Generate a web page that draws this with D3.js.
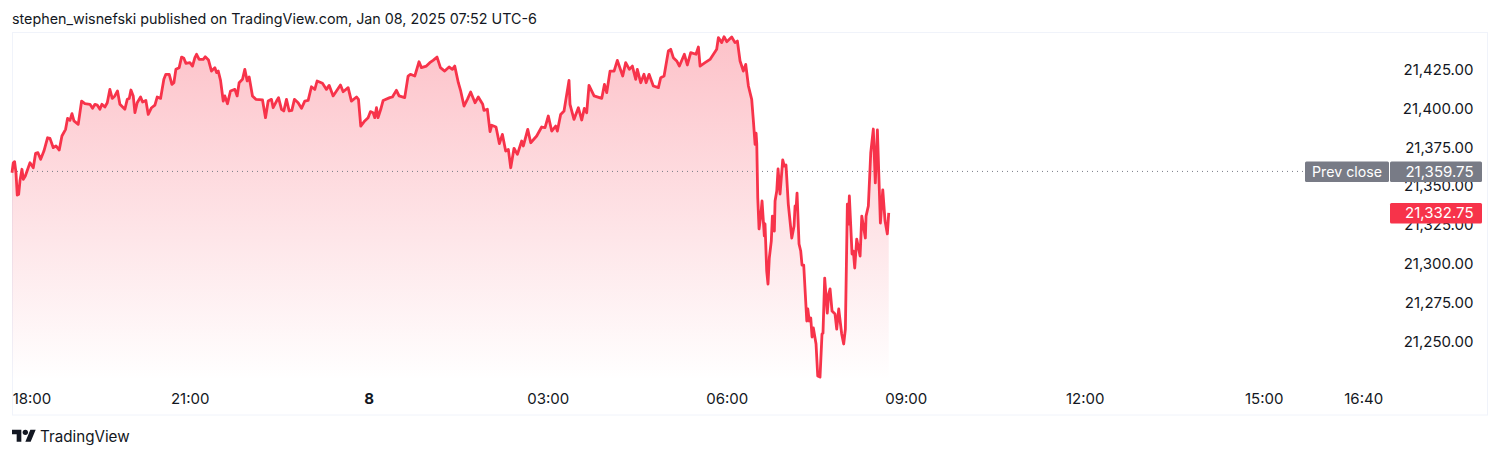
<!DOCTYPE html>
<html><head><meta charset="utf-8">
<script src="https://cdn.jsdelivr.net/npm/d3@7"></script>
<style>html,body{margin:0;padding:0;background:#fff;overflow:hidden}svg{display:block}text{font-family:Inter,"Noto Sans",sans-serif}</style>
</head><body><div id="c"></div>
<script>
const minutes=[0.5,1.8,3.1,4.5,5.8,7.2,8.5,10.5,11.9,13.9,18.6,21.9,24.2,26.6,29.3,32.6,36.3,38.7,42,44.7,48,50.7,54.4,56.4,58.8,60.8,62.8,67.1,70.5,73.8,78.9,81.5,83.9,86.2,88.9,90.9,93.9,96.3,98.9,101.3,103.9,106.6,109,114,116.4,118.4,120.1,122.4,124.1,126.4,129.8,131.8,135.1,137.5,140.8,144.2,146.5,149.9,153.2,155.2,158.6,161.3,163.3,165.3,168.6,171,173.3,175.3,179.4,182,184.4,186.1,188.7,192.8,194.8,198.1,201.1,204.5,206.2,207.9,210.2,212.9,214.5,217.2,220.2,224.6,226.9,228.9,232.3,234.6,237,239,242.3,245.7,252.4,255.4,258.1,261.4,263.1,266.5,268.5,271.5,273.8,276.5,279.2,281.9,284.5,288.2,291.6,294.9,298.3,301.6,305,307.3,312.7,316.7,319.4,323.4,330.8,333.5,338.5,341.8,346.9,348.9,351.2,355.2,358.6,360.9,363.6,365.3,367,368.6,371.3,373.7,380.4,383,387.1,389.7,395.4,398.8,401.1,405.5,409.8,412.2,417.2,420.6,423.9,427.9,431.3,435.6,440,443.3,445.7,449.3,451.7,455,458.4,461.7,466.1,469.4,473.8,475.1,478.5,481.2,482.9,487.2,490.6,493.6,496.9,499.6,502,505.3,508.7,513,514.7,519.1,522.1,528.1,533.1,536.5,539.8,543.2,547.2,548.9,552.2,555.6,560.6,561.6,565.6,570,573.4,576,578.4,580.7,585.8,593.5,596.2,598.5,601.9,605.9,609.2,614.6,617.6,621.3,624.3,627.7,629.3,632.7,636,638.1,641.1,645.4,650.5,652.8,656.2,660.5,662.9,665.5,668.9,671.6,676.6,679.6,683,688.3,690.7,692.4,697.4,702.4,709.1,710.8,714.2,716.5,719.2,724.2,727.5,729.9,732.6,735.9,738.3,741,744.3,746,747.7,748.7,749.4,750.4,751.7,753.4,754.7,757,757.7,759.4,760.7,762,764,765.1,767.1,767.8,769.5,770.8,772.8,775.5,777.1,778.8,781.1,784.6,786.9,787.9,788.9,789.9,791.9,793.6,794.9,796.6,799.7,800.7,802.2,803.7,805,806.3,809,810.7,813,815,816,817.7,820.3,821.7,823.1,825.1,828.1,829.8,831.8,834.8,836.8,838.5,840.5,841.5,842.5,845.2,846.5,847.9,849.9,853.3,855,856.6,858.6,859.3,861.6,864,866.6,868.6,870.7,873.7,876.1,878.4,880.7,882.1];
const prices=[21358.6,21365,21365.7,21358.6,21344.2,21344.7,21353.2,21360.8,21354.3,21356.5,21365,21361.8,21371,21371.5,21367.2,21372.5,21381.1,21380.7,21374.7,21375.8,21373.2,21382.2,21386.5,21393.6,21392.3,21396.6,21391.9,21389.7,21404.7,21403,21402.6,21400,21402.6,21402.1,21399.4,21402.6,21400.9,21403.6,21412.2,21406.4,21408,21411.2,21402.6,21399.4,21405.8,21406.4,21411.8,21408,21397.2,21403.6,21407.3,21404.1,21405.1,21396.1,21400.4,21402.1,21407.3,21406.4,21418.7,21421.9,21421.9,21415.4,21416.5,21425.1,21426.2,21433,21432.2,21429,21429.4,21427.2,21432.6,21434.8,21431.5,21431.5,21433.2,21431.1,21424,21426.2,21423,21424,21418,21404.7,21408,21403,21411.2,21412.2,21408,21416.5,21418.7,21425.1,21417.6,21420.2,21408,21405.8,21405.4,21394,21404.7,21405.8,21400.4,21404.7,21406.9,21399.4,21398.3,21405.8,21398.3,21398.7,21405.8,21403.6,21400,21404.7,21405.1,21413.9,21412.2,21417.6,21416.1,21412.2,21414.8,21408,21415,21410.7,21413.3,21404.7,21407.3,21405.8,21388.6,21391.9,21394,21397.9,21397.2,21394,21400.4,21394,21399.4,21405.1,21406.9,21407.3,21411.6,21408,21406.9,21420.8,21421.9,21420.8,21430,21426.2,21427.2,21429.4,21430.9,21433,21426.2,21424,21426.6,21425.1,21427.2,21416.5,21411.2,21401.5,21405.8,21410.5,21403.6,21407.3,21402.6,21398.7,21399.4,21385,21389.1,21388,21377.3,21383.3,21372.5,21373.6,21361.8,21374.3,21370.4,21379,21375.8,21386.5,21377.9,21382.2,21388,21387.6,21395.1,21385.4,21388.6,21385.4,21396.1,21398.3,21418,21402.6,21392.9,21400.4,21392.5,21400,21397.2,21414.8,21408,21406.4,21415.4,21410.1,21424,21424,21430.9,21420.8,21429.4,21425.1,21427.2,21418.7,21425.1,21416.5,21421.9,21416.5,21421.9,21414.4,21413.3,21419.7,21420.8,21436.9,21438,21432.6,21430.5,21427.2,21434.8,21427.9,21435.8,21434.8,21439.5,21427.2,21429.4,21431.5,21438,21445.5,21442.3,21446.1,21442.9,21445.9,21442.3,21443.3,21430.5,21424,21428.3,21414.4,21405.8,21391.9,21376.8,21384.1,21377.1,21342.3,21322.4,21330.7,21340.4,21317.9,21325.6,21295.3,21287,21303.7,21314.6,21330.7,21321.1,21340.4,21346.8,21361,21344.9,21366.8,21362.9,21363.5,21338.4,21316.6,21324.3,21337.2,21335.2,21345.5,21312.7,21308.2,21299.2,21299.2,21263.2,21270.9,21263.2,21265.1,21252.9,21258.7,21248.4,21227.8,21227.1,21254.8,21255.4,21290.8,21268.3,21280.5,21283.8,21269.6,21267.7,21258,21270.9,21254.8,21248.4,21258,21338.4,21325.6,21343.6,21306.3,21308.2,21297.3,21315.9,21305,21330.7,21324.3,21316.6,21330.7,21337.2,21371.3,21386.7,21352,21386.1,21326.2,21347.5,21327.5,21319.2,21332.75];
const priceTicks=[21250,21275,21300,21325,21350,21375,21400,21425];
const timeTicks=[0,180,360,540,720,900,1080,1260,1360];
const timeLabels=["18:00","21:00","8","03:00","06:00","09:00","12:00","15:00","16:40"];
const prevClose=21359.75, lastPrice=21332.75;
const title="stephen_wisnefski published on TradingView.com, Jan 08, 2025 07:52 UTC-6";

const W=1500,H=457,RED="#F7334A",GREY="#787B86",INK="#131722";
const x=d3.scaleLinear().domain([0,1360]).range([11.5,1364]);
const y=d3.scaleLinear().domain([21250,21425]).range([341.5,69.5]);
const svg=d3.select("#c").append("svg").attr("width",W).attr("height",H);
const data=minutes.map((m,i)=>({m,p:prices[i]}));

const grad=svg.append("defs").append("linearGradient").attr("id","g")
  .attr("gradientUnits","userSpaceOnUse").attr("x1",0).attr("x2",0).attr("y1",36).attr("y2",380);
grad.append("stop").attr("offset",0).attr("stop-color",RED).attr("stop-opacity",0.30);
grad.append("stop").attr("offset",1).attr("stop-color",RED).attr("stop-opacity",0);

svg.append("text").attr("x",12).attr("y",24).attr("font-size",14.3).attr("fill",INK).text(title);
svg.append("rect").attr("x",12.5).attr("y",32.5).attr("width",1475).attr("height",382.5)
  .attr("fill","none").attr("stroke","#F0F3FA");

const area=d3.area().x(d=>x(d.m)).y0(380).y1(d=>y(d.p));
const line=d3.line().x(d=>x(d.m)).y(d=>y(d.p));
svg.append("path").datum(data).attr("d",area).attr("fill","url(#g)");

svg.append("line").attr("x1",12).attr("x2",1305).attr("y1",y(prevClose)+0.5).attr("y2",y(prevClose)+0.5)
  .attr("stroke",GREY).attr("stroke-width",1).attr("stroke-dasharray","1 4");

svg.append("path").datum(data).attr("d",line).attr("fill","none").attr("stroke",RED)
  .attr("stroke-width",2.8).attr("stroke-linejoin","round");

const yAxis=d3.axisRight(y).tickValues(priceTicks).tickSize(0).tickPadding(0).tickFormat(d3.format(",.2f"));
const gy=svg.append("g").attr("transform","translate(1473.5,0)").call(yAxis);
gy.select(".domain").remove();
gy.selectAll("text").attr("text-anchor","end").attr("font-family",'Inter,"Noto Sans",sans-serif').attr("font-size",15).attr("fill",INK);

const xAxis=d3.axisBottom(x).tickValues(timeTicks).tickSize(0).tickPadding(0).tickFormat((d,i)=>timeLabels[i]);
const gx=svg.append("g").attr("transform","translate(0,393)").call(xAxis);
gx.select(".domain").remove();
gx.selectAll("text").attr("font-family",'Inter,"Noto Sans",sans-serif').attr("font-size",15).attr("fill",INK)
  .attr("font-weight",(d,i)=>timeLabels[i]==="8"?700:400)
  .attr("dx",(d,i)=>i===0?20:-0.8);

function badge(bx,w,cy,fill,txt,tx,fs){
  svg.append("rect").attr("x",bx).attr("y",cy-10).attr("width",w).attr("height",20.5).attr("rx",1.5).attr("fill",fill);
  svg.append("text").attr("x",tx).attr("y",cy).attr("dy","0.36em").attr("text-anchor","end")
    .attr("font-size",fs).attr("fill","#fff").text(txt);
}
const fmt=d3.format(",.2f");
badge(1305,84,y(prevClose)+0.5,GREY,"Prev close",1382,14.2);
badge(1390,92,y(prevClose)+0.5,GREY,fmt(prevClose),1473.5,15);
badge(1390,92,y(lastPrice),RED,fmt(lastPrice),1473.5,15);

const logo=svg.append("g").attr("transform","translate(12,427) scale(0.667)").attr("fill",INK);
logo.append("path").attr("d","M14 22H7V11H0V4h14v18zM28 22h-8l7.5-18h8L28 22z");
logo.append("circle").attr("cx",20).attr("cy",8).attr("r",4);
svg.append("text").attr("x",40).attr("y",442).attr("font-size",15.2).attr("fill",INK).text("TradingView");
</script></body></html>
